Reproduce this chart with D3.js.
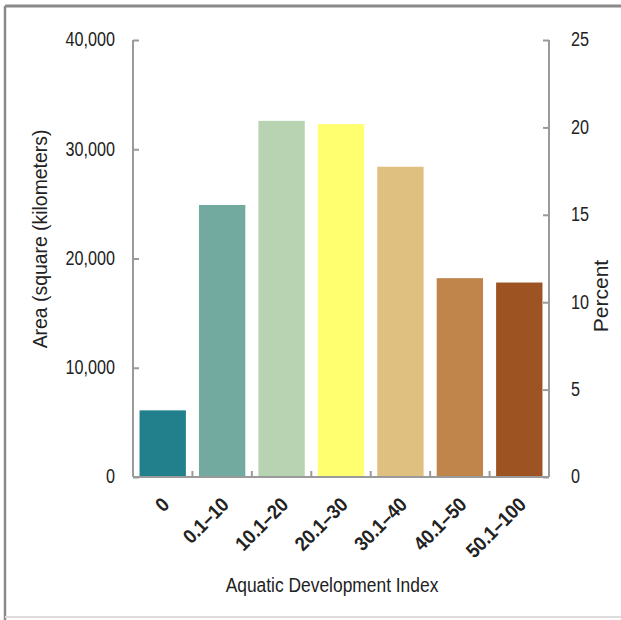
<!DOCTYPE html>
<html>
<head>
<meta charset="utf-8">
<script src="https://cdn.jsdelivr.net/npm/d3@7"></script>
<style>
    body { margin: 0; background: #ffffff; }
    svg { display: block; }
    text { font-family: "Liberation Sans", Arial, sans-serif; fill: #222222; }
</style>
</head>
<body>
<script>
// categories and values
var categories = ["0", "0.1–10", "10.1–20", "20.1–30", "30.1–40", "40.1–50", "50.1–100"];
var areaValues = [6100, 24900, 32600, 32300, 28400, 18200, 17800];
var barColors = ["#22808c", "#72aaa0", "#b8d3b1", "#ffff70", "#e0c080", "#c0854a", "#9d5322"];
var areaTicks = [0, 10000, 20000, 30000, 40000];
var percentTicks = [0, 5, 10, 15, 20, 25];

var width = 621, height = 620;
var margin = {top: 40, right: 72, bottom: 143, left: 133};

var svg = d3.select("body").append("svg")
    .attr("width", width)
    .attr("height", height);

// the source font is a condensed face, so squeeze a regular one sideways
function addText(parent, x, y, angle, sx, str) {
    var g = parent.append("g")
        .attr("transform", "translate(" + x + "," + y + ") rotate(" + angle + ")");
    return g.append("text")
        .attr("transform", "scale(" + sx + ",1)")
        .style("font-size", "20px")
        .text(str);
}

// frame lines round the figure
svg.append("line").attr("x1", 5).attr("x2", width).attr("y1", 6).attr("y2", 6)
    .attr("stroke", "#8a8a8a").attr("stroke-width", 3);
svg.append("line").attr("x1", 5).attr("x2", 5).attr("y1", 6).attr("y2", height)
    .attr("stroke", "#8a8a8a").attr("stroke-width", 2.5);
svg.append("line").attr("x1", 5).attr("x2", width).attr("y1", 617).attr("y2", 617)
    .attr("stroke", "#dddddd").attr("stroke-width", 2);

var x = d3.scaleBand()
    .domain(categories)
    .range([margin.left, width - margin.right])
    .paddingInner(0.22)
    .paddingOuter(0.11);

var yArea = d3.scaleLinear()
    .domain([0, 40000])
    .range([height - margin.bottom, margin.top]);

var yPercent = d3.scaleLinear()
    .domain([0, 25])
    .range([height - margin.bottom, margin.top]);

var x0 = margin.left, x1 = width - margin.right, yBase = height - margin.bottom;

svg.selectAll("rect.bar")
    .data(areaValues)
    .enter().append("rect")
    .attr("class", "bar")
    .attr("x", function(d, i) { return x(categories[i]); })
    .attr("width", x.bandwidth())
    .attr("y", function(d) { return yArea(d); })
    .attr("height", function(d) { return yBase - yArea(d); })
    .attr("fill", function(d, i) { return barColors[i]; });

var axisColor = "#9a9a9a";

// left axis, ticks pointing in
var leftAxis = svg.append("g")
    .attr("transform", "translate(" + x0 + ",0)")
    .call(d3.axisRight(yArea).tickValues(areaTicks).tickSize(6).tickFormat(""));
leftAxis.select(".domain").remove();
leftAxis.selectAll(".tick line").attr("stroke", axisColor).attr("stroke-width", 2);
svg.append("line").attr("x1", x0).attr("x2", x0).attr("y1", margin.top).attr("y2", yBase)
    .attr("stroke", axisColor).attr("stroke-width", 2);
areaTicks.forEach(function(d) {
    addText(svg, 115, yArea(d), 0, 0.77, d3.format(",")(d))
        .attr("dy", "0.3em")
        .attr("text-anchor", "end")
        .style("font-size", "21px");
});

// right axis, ticks pointing in
var rightAxis = svg.append("g")
    .attr("transform", "translate(" + x1 + ",0)")
    .call(d3.axisLeft(yPercent).tickValues(percentTicks).tickSize(6).tickFormat(""));
rightAxis.select(".domain").remove();
rightAxis.selectAll(".tick line").attr("stroke", axisColor).attr("stroke-width", 2);
svg.append("line").attr("x1", x1).attr("x2", x1).attr("y1", margin.top).attr("y2", yBase)
    .attr("stroke", axisColor).attr("stroke-width", 2);
percentTicks.forEach(function(d) {
    addText(svg, 571, yPercent(d), 0, 0.77, String(d))
        .attr("dy", "0.3em")
        .style("font-size", "21px");
});

// bottom axis with small ticks between the bars
svg.append("line").attr("x1", x0).attr("x2", x1).attr("y1", yBase).attr("y2", yBase)
    .attr("stroke", axisColor).attr("stroke-width", 2);
svg.selectAll("line.sep")
    .data(categories.slice(1))
    .enter().append("line")
    .attr("class", "sep")
    .attr("x1", function(d) { return x(d) - x.step() * x.paddingInner() / 2; })
    .attr("x2", function(d) { return x(d) - x.step() * x.paddingInner() / 2; })
    .attr("y1", yBase)
    .attr("y2", yBase - 6)
    .attr("stroke", axisColor)
    .attr("stroke-width", 2);

categories.forEach(function(d) {
    addText(svg, x(d) + x.bandwidth() / 2 + 3, yBase + 24, -45, 0.9, d)
        .attr("dy", "0.35em")
        .attr("text-anchor", "end")
        .style("font-size", "20px")
        .style("font-weight", "bold");
});

// axis titles
addText(svg, 332, 592, 0, 0.87, "Aquatic Development Index")
    .attr("text-anchor", "middle");
addText(svg, 47, 239, -90, 0.97, "Area (square (kilometers)")
    .attr("text-anchor", "middle");
addText(svg, 608, 296, -90, 1.05, "Percent")
    .attr("text-anchor", "middle");
</script>
</body>
</html>
